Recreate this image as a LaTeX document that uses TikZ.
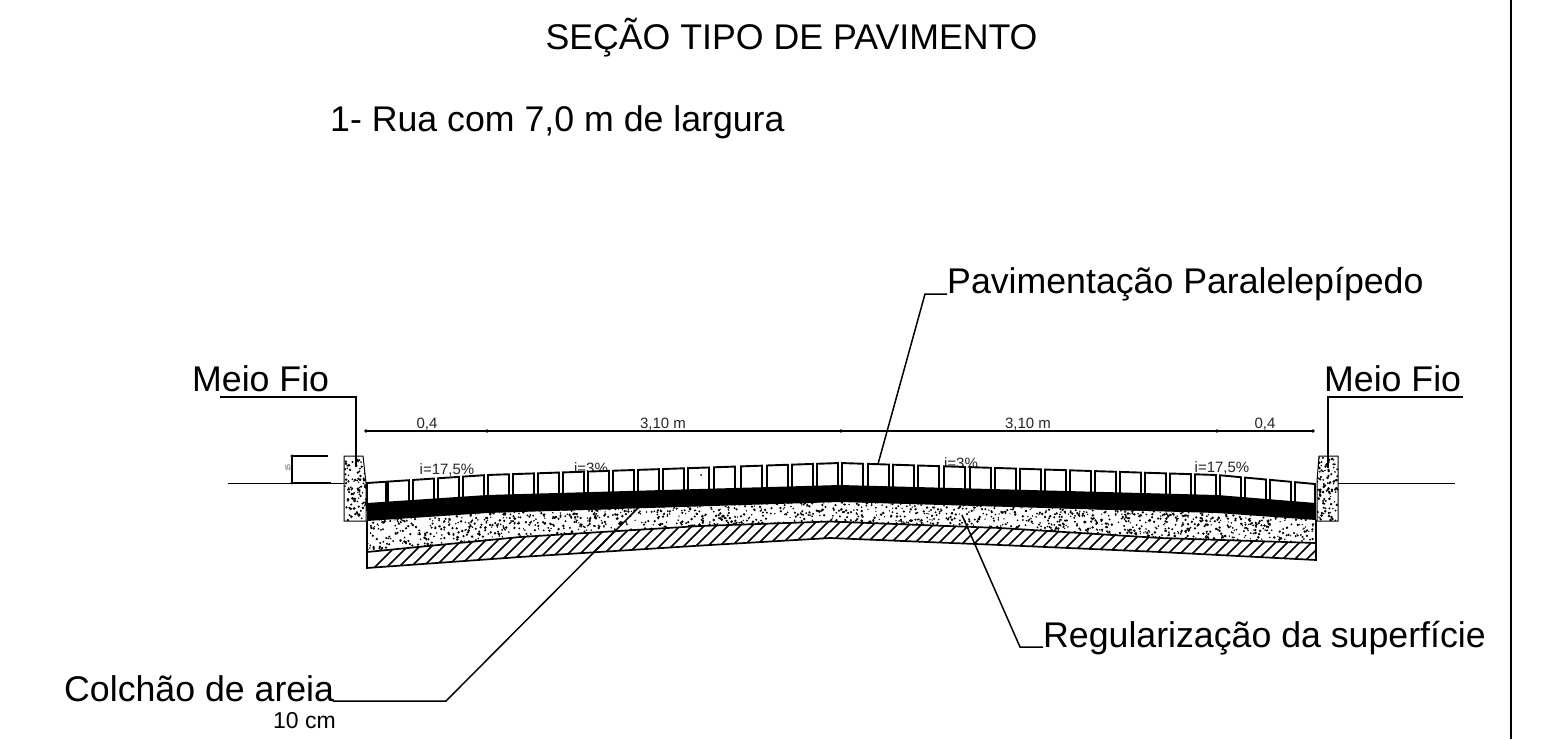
\documentclass[tikz,border=0pt]{standalone}
\usepackage{fontspec}
\setmainfont{Liberation Sans}
\tikzset{
  big/.style={inner sep=0pt,font=\fontsize{35.7}{38}\selectfont},
  mid/.style={inner sep=0pt,font=\fontsize{23}{26}\selectfont},
  small/.style={inner sep=0pt,text=black!85,font=\fontsize{15}{17}\selectfont},
  leader/.style={line width=1.5pt,black},
  thin line/.style={line width=0.9pt,black},
  dimline/.style={line width=1.5pt,black},
  outline/.style={line width=1.7pt,black},
  hatchline/.style={line width=1.7pt,black},
  paver/.style={line width=1.9pt,draw=black,fill=white}
}
\def\xA{367}\def\xB{487}\def\xC{840}\def\xD{1217}\def\xE{1316}
\begin{document}
\begin{tikzpicture}[x=1pt,y=-1pt]
\useasboundingbox (0,0) rectangle (1558,739);
\fill[white] (0,0) rectangle (1558,739);
% border
\coordinate (bt) at (1511,0); \coordinate (bb) at (1511,739);
\draw[line width=1.6pt] (bt) -- (bb);
% titles
\node[big,anchor=base] (title) at (791.5,49) {SEÇÃO TIPO DE PAVIMENTO};
\node[big,anchor=base west] (sub) at (330,131) {1- Rua com 7,0 m de largura};
% labels
\node[big,anchor=base west] (mf1) at (192,391) {Meio Fio};
\node[big,anchor=base west] (mf2) at (1324,391) {Meio Fio};
\node[big,anchor=base west] (pav) at (947,293) {Pavimentação Paralelepípedo};
\node[big,anchor=base west] (reg) at (1043,647) {Regularização da superfície};
\node[big,anchor=base west] (col) at (64,701) {Colchão de areia};
\node[mid,anchor=base west] (dez) at (273,728) {10 cm};
% slope labels (behind the pavers)
\node[small,anchor=base] (s1) at (447,474) {i=17,5\%};
\node[small,anchor=base] (s2) at (591,473) {i=3\%};
\node[small,anchor=base] (s3) at (961,468) {i=3\%};
\node[small,anchor=base] (s4) at (1222,472) {i=17,5\%};
% dimension line
\coordinate (d0) at (366,431); \coordinate (d1) at (487,431); \coordinate (d2) at (841,431);
\coordinate (d3) at (1217,431); \coordinate (d4) at (1313,431);
\draw[dimline] (d0) -- (d4);
\foreach \p in {d0,d1,d2,d3,d4} \fill (\p) circle (1.9);
\node[small,anchor=base] (l1) at (427,428) {0,4};
\node[small,anchor=base] (l2) at (663,428) {3,10 m};
\node[small,anchor=base] (l3) at (1028,428) {3,10 m};
\node[small,anchor=base] (l4) at (1265,428) {0,4};
% pavers
\def\toppath#1{ifthenelse(#1<\xB,483-(#1-367)*8/120,ifthenelse(#1<\xC,475-(#1-487)*12/353,ifthenelse(#1<\xD,463+(#1-840)*12/377,475+(#1-1217)*9/98)))}
\foreach \xa/\w in {367/19,388/21,413/21,438/21,463/21,488/21,513/21,538/21,563/21,588/21,613/21,638/21,663/21,688/21,714/21,741/21,767/21,792/21,817/21,842/21,868/21,893/21,918/21,944/21,970/21,995/21,1020/21,1045/21,1070/21,1095/21,1120/21,1145/21,1170/21,1195/21,1220/21,1245/21,1270/21,1295/20}{
  \pgfmathsetmacro\xb{\xa+\w}
  \pgfmathsetmacro\ya{\toppath{\xa}}
  \pgfmathsetmacro\yb{\toppath{\xb}}
  \draw[paver] (\xa,\ya) -- (\xb,\yb) -- (\xb,510) -- (\xa,510) -- cycle;
}
\fill (701,475) circle (1);
% sand background
\fill[white] (367,521) -- (487,513) -- (840,502) -- (1217,513) -- (1316,520) -- (1316,543) -- (1160,538) -- (1000,528) -- (830,521.5) -- (700,526) -- (520,537) -- (367,552) -- cycle;
% sand stipple
\pgfmathsetseed{4711}
\begin{scope}
\clip (367,521) -- (487,513) -- (840,502) -- (1217,513) -- (1316,520) -- (1316,543) -- (1160,538) -- (1000,528) -- (830,521.5) -- (700,526) -- (520,537) -- (367,552) -- cycle;
\foreach \i in {1,...,3000}{
  \pgfmathsetmacro\px{367+rnd*949}
  \pgfmathsetmacro\py{502+rnd*50}
  \pgfmathsetmacro\pr{0.7+rnd*0.7}
  \fill (\px,\py) circle (\pr);
}
\end{scope}
% black base
\fill[black] (367,503) -- (487,495) -- (840,485) -- (1217,495) -- (1316,503) -- (1316,520) -- (1217,513) -- (840,502) -- (487,513) -- (367,521) -- cycle;
% hatch layer
\begin{scope}
\clip (367,552) -- (520,537) -- (700,526) -- (830,521.5) -- (1000,528) -- (1160,538) -- (1316,543) -- (1316,560) -- (1160,552) -- (1000,545) -- (830,538) -- (700,545.6) -- (520,557) -- (367,568) -- cycle;
\foreach \k in {0,...,86}{
  \pgfmathsetmacro\hx{367+\k*12}
  \draw[hatchline] (\hx,575) -- ++(60,-60);
}
\end{scope}
\draw[outline] (367,552) -- (520,537) -- (700,526) -- (830,521.5) -- (1000,528) -- (1160,538) -- (1316,543);
\draw[outline] (367,521) -- (367,568) -- (520,557) -- (700,545.6) -- (830,538) -- (1000,545) -- (1160,552) -- (1316,560) -- (1316,520);
% curbs
\draw[line width=1pt,fill=white] (344,456) -- (363,456) -- (366,483) -- (366,521) -- (344,521) -- cycle;
\draw[line width=1pt,fill=white] (1319,456) -- (1338,456) -- (1338,521) -- (1317,521) -- (1317,481) -- cycle;
\begin{scope}
\clip (344,456) -- (363,456) -- (366,483) -- (366,521) -- (344,521) -- cycle;
\foreach \i in {1,...,100}{
  \pgfmathsetmacro\px{345+rnd*21}
  \pgfmathsetmacro\py{457+rnd*64}
  \pgfmathsetmacro\pr{0.8+rnd*0.7}
  \fill (\px,\py) circle (\pr);
}
\end{scope}
\begin{scope}
\clip (1319,456) -- (1338,456) -- (1338,521) -- (1317,521) -- (1317,481) -- cycle;
\foreach \i in {1,...,100}{
  \pgfmathsetmacro\px{1317+rnd*21}
  \pgfmathsetmacro\py{457+rnd*64}
  \pgfmathsetmacro\pr{0.8+rnd*0.7}
  \fill (\px,\py) circle (\pr);
}
\end{scope}
% ground lines and height dimension
\coordinate (g1) at (228,483); \coordinate (g2) at (344,483);
\coordinate (g3) at (1338,483); \coordinate (g4) at (1455,483);
\draw[thin line] (g1) -- (g2);
\draw[thin line] (g3) -- (g4);
\coordinate (h1) at (292,456); \coordinate (h2) at (292,483);
\coordinate (h3) at (328,456); \coordinate (h4) at (331,483);
\draw[dimline] (h1) -- (h2);
\draw[dimline] (h1) -- (h3);
\draw[dimline] (h2) -- (h4);
\fill (h1) circle (1.6); \fill (h2) circle (1.6);
\node[inner sep=0pt,rotate=90,text=black!70,font=\fontsize{7}{8}\selectfont] (q) at (288,468) {15};
% leaders
\coordinate (a1) at (220,397); \coordinate (a2) at (356,397); \coordinate (a3) at (356,467);
\draw[leader] (a1) -- (a2) -- (a3);
\coordinate (b1) at (1463,397); \coordinate (b2) at (1328,397); \coordinate (b3) at (1328,468);
\draw[leader] (b1) -- (b2) -- (b3);
\coordinate (c1) at (947,294); \coordinate (c2) at (925,294); \coordinate (c3) at (878,464);
\draw[leader] (c1) -- (c2) -- (c3);
\coordinate (e1) at (1043,647); \coordinate (e2) at (1020,647); \coordinate (e3) at (962,515);
\draw[leader] (e1) -- (e2) -- (e3);
\coordinate (f1) at (333,701); \coordinate (f2) at (446,701); \coordinate (f3) at (638,508);
\draw[leader] (f1) -- (f2) -- (f3);
\end{tikzpicture}
\end{document}
